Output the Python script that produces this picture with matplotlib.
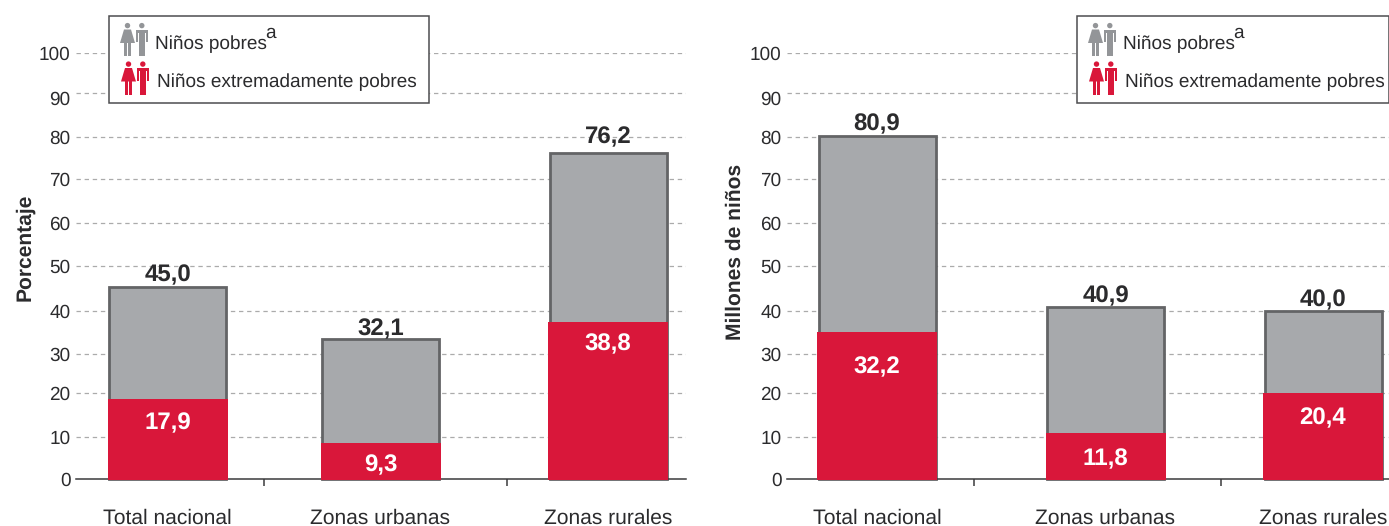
import matplotlib
matplotlib.use("Agg")
import matplotlib.pyplot as plt
from matplotlib.patches import Circle, Polygon, Rectangle

plt.rcParams['font.family'] = ['Liberation Sans', 'DejaVu Sans']
plt.rcParams['text.hinting'] = 'none'
plt.rcParams['text.hinting_factor'] = 1

# values as drawn in the picture (bars and labels do not quite agree in the original)
categories = ["Total nacional", "Zonas urbanas", "Zonas rurales"]
pct_total = [45.0, 32.9, 76.5]
pct_extreme = [19.0, 8.7, 37.2]
pct_total_labels = ["45,0", "32,1", "76,2"]
pct_extreme_labels = ["17,9", "9,3", "38,8"]
mill_total = [80.5, 40.4, 39.4]
mill_extreme = [34.7, 11.0, 20.4]
mill_total_labels = ["80,9", "40,9", "40,0"]
mill_extreme_labels = ["32,2", "11,8", "20,4"]
ytick_labels = ["0", "10", "20", "30", "40", "50", "60", "70", "80", "90", "100"]
# gridlines are hand placed in the original, not evenly spaced
grid_values = [9.9, 20.1, 29.3, 39.4, 50.1, 60.2, 70.5, 80.2, 90.6, 100]
label_values = [0, 9.9, 20.1, 29.3, 39.4, 50.1, 60.2, 70.5, 80.2, 89.5, 100]

W, H = 1389, 526
TEXT = "#2b2b2d"
GREY = "#a7a9ac"
EDGE = "#636466"
RED = "#d9173a"
ICON_GREY = "#939598"
PX = 0.72  # points per pixel at dpi 100

fig = plt.figure(figsize=(W / 100, H / 100), dpi=100)


def panel(x0, x1, bar_x, seps, total, extreme, total_lab, extreme_lab, top_off, in_off, ylabel, ylabel_x, ylabel_y):
    y0, y100 = 479, 53
    ax = fig.add_axes([x0 / W, 1 - y0 / H, (x1 - x0) / W, (y0 - y100) / H])
    ax.set_xlim(x0, x1)
    ax.set_ylim(0, 100)
    ax.set_facecolor("none")
    for s in ["top", "right", "left"]:
        ax.spines[s].set_visible(False)
    ax.spines["bottom"].set_color("#3a3a3c")
    ax.spines["bottom"].set_linewidth(1.1)
    for g in grid_values:
        ax.plot([x0, x1], [g, g], color="#ababab", lw=0.9, dashes=(3.5, 3), zorder=1)

    ax.bar(bar_x, total, width=117, color=GREY, edgecolor=EDGE, linewidth=2.0, zorder=2, clip_on=False)
    ax.bar(bar_x, extreme, width=120, bottom=-0.3, color=RED, linewidth=0, zorder=3, clip_on=False)

    ax.set_xticks(bar_x, categories, fontsize=15, color=TEXT)
    ax.tick_params(axis="x", which="major", length=0, pad=21.5)
    ax.set_xticks(seps, minor=True)
    ax.tick_params(axis="x", which="minor", length=5, width=1.1, color="#3a3a3c")
    ax.set_yticks(label_values, ytick_labels, fontsize=13.4, color=TEXT)
    ax.tick_params(axis="y", length=0, pad=4)

    for i in range(len(bar_x)):
        ax.annotate(total_lab[i], (bar_x[i], total[i]), xytext=(0, -top_off[i] * PX), textcoords="offset points",
                    ha="center", va="center", fontsize=17.5, fontweight="bold", color=TEXT, zorder=5)
        ax.annotate(extreme_lab[i], (bar_x[i], extreme[i]), xytext=(0, -in_off[i] * PX), textcoords="offset points",
                    ha="center", va="center", fontsize=17.5, fontweight="bold", color="white", zorder=5)
    fig.text(ylabel_x / W, 1 - ylabel_y / H, ylabel, rotation=90, ha="center", va="center",
             fontsize=15.3, fontweight="bold", color=TEXT)
    return ax


panel(76, 686, [167.5, 380.5, 608], [264, 507], pct_total, pct_extreme,
      pct_total_labels, pct_extreme_labels, [-12, -10, -16], [25, 23, 24],
      "Porcentaje", 25, 247)
panel(787, 1389, [877, 1105.5, 1323], [974, 1221], mill_total, mill_extreme,
      mill_total_labels, mill_extreme_labels, [-12, -11, -11], [36, 27, 26],
      "Millones de niños", 735, 252)

# overlay in pixel coords for the legend boxes
over = fig.add_axes([0, 0, 1, 1], zorder=10)
over.set_xlim(0, W)
over.set_ylim(H, 0)
over.axis("off")


def woman(x, y, c):
    over.add_patch(Circle((x + 7.5, y + 2.6), 2.7, color=c, lw=0))
    over.add_patch(Polygon([(x + 4, y + 6.5), (x + 11, y + 6.5), (x + 15, y + 20), (x, y + 20)], color=c, lw=0))
    over.add_patch(Rectangle((x + 4.4, y + 19), 2.7, 14, color=c, lw=0))
    over.add_patch(Rectangle((x + 8, y + 19), 2.7, 14, color=c, lw=0))


def man(x, y, c):
    over.add_patch(Circle((x + 6.3, y + 2.6), 2.7, color=c, lw=0))
    over.add_patch(Rectangle((x, y + 6.5), 12.6, 3, color=c, lw=0))
    over.add_patch(Rectangle((x, y + 6.5), 2.2, 12.5, color=c, lw=0))
    over.add_patch(Rectangle((x + 10.4, y + 6.5), 2.2, 12.5, color=c, lw=0))
    over.add_patch(Rectangle((x + 3, y + 6.5), 6.6, 12, color=c, lw=0))
    over.add_patch(Rectangle((x + 3, y + 18), 3, 15, color=c, lw=0))
    over.add_patch(Rectangle((x + 6.6, y + 18), 3, 15, color=c, lw=0))


def legend_box(x0, x1, icon_x, text_x):
    over.add_patch(Rectangle((x0, 16), x1 - x0, 87, facecolor="white", edgecolor="#4d4d4f", lw=1.1))
    woman(icon_x, 23, ICON_GREY)
    man(icon_x + 15.5, 23, ICON_GREY)
    woman(icon_x + 1, 61.5, RED)
    man(icon_x + 16.5, 61.5, RED)
    over.text(text_x, 44, "Niños pobres", fontsize=13.5, color=TEXT, va="center", ha="left")
    over.text(text_x + 110, 33, "a", fontsize=13.5, color=TEXT, va="center", ha="left")
    over.text(text_x + 2, 82, "Niños extremadamente pobres", fontsize=13.5, color=TEXT, va="center", ha="left")


legend_box(109, 429, 120, 155)
legend_box(1077, 1388.5, 1088, 1123)

fig.savefig("out.png", dpi=100)
